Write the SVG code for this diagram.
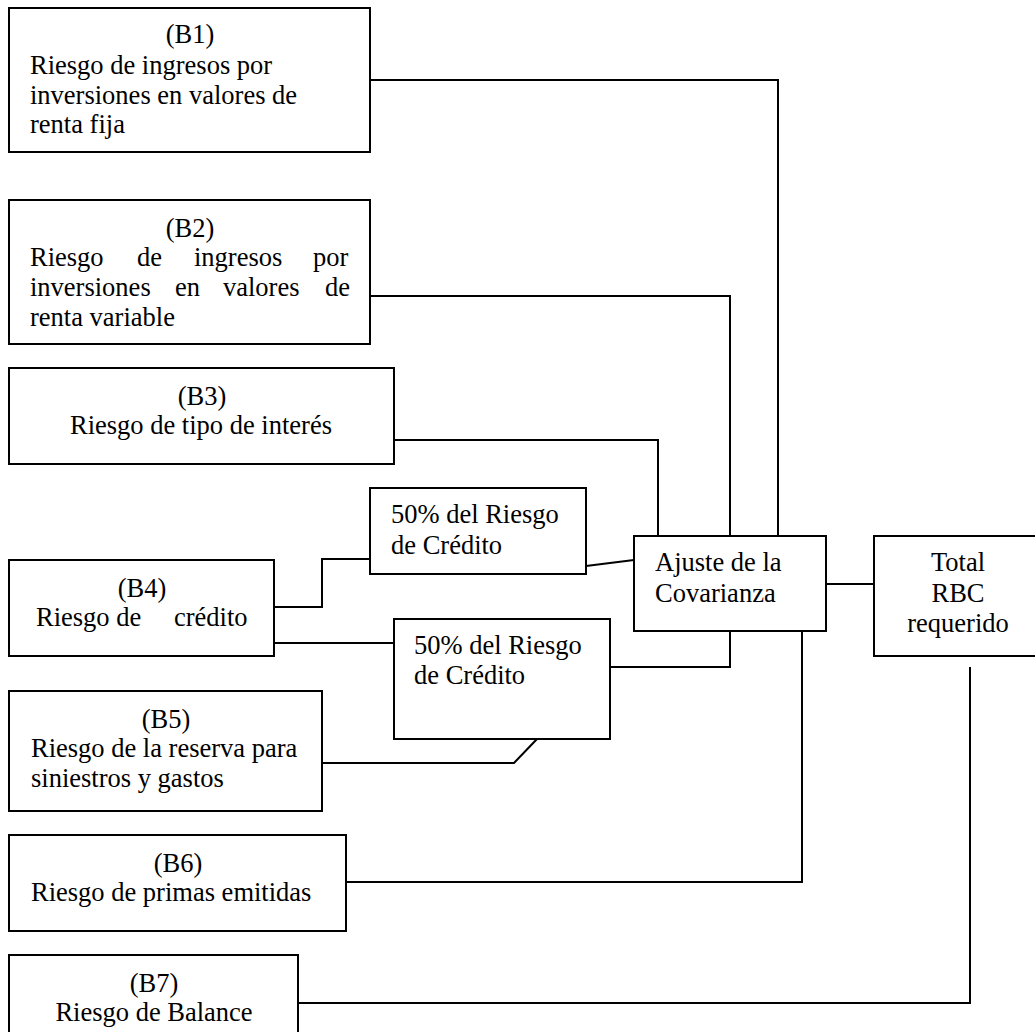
<svg xmlns="http://www.w3.org/2000/svg" width="1035" height="1032" viewBox="0 0 1035 1032">
<style>
  .box { fill: #ffffff; stroke: #000000; stroke-width: 2; }
  .wire { fill: none; stroke: #000000; stroke-width: 2; }
  text { font-family: "Liberation Serif", "Times New Roman", serif; font-size: 26.5px; fill: #000000; }
  .c { text-anchor: middle; }
</style>
<rect width="1035" height="1032" fill="#ffffff"/>
<g id="connectors">
  <polyline class="wire" points="370,80 778,80 778,536"/>
  <polyline class="wire" points="370,296 730,296 730,536"/>
  <polyline class="wire" points="394,440 658,440 658,536"/>
  <polyline class="wire" points="274,607 322,607 322,559 370,559"/>
  <line class="wire" x1="586" y1="566" x2="634" y2="560"/>
  <line class="wire" x1="274" y1="643" x2="394" y2="643"/>
  <polyline class="wire" points="610,667 730,667 730,631"/>
  <polyline class="wire" points="322,763 514,763 537,739"/>
  <polyline class="wire" points="346,882 802,882 802,631"/>
  <line class="wire" x1="826" y1="584" x2="874" y2="584"/>
  <polyline class="wire" points="298,1003 970,1003 970,667"/>
</g>
<g id="B1">
  <rect class="box" x="9" y="8" width="361" height="144"/>
  <text class="c" x="190" y="43">(B1)</text>
  <text x="30" y="74">Riesgo de ingresos por</text>
  <text x="30" y="104">inversiones en valores de</text>
  <text x="30" y="133">renta fija</text>
</g>
<g id="B2">
  <rect class="box" x="9" y="200" width="361" height="144"/>
  <text class="c" x="190" y="237">(B2)</text>
  <text y="266"><tspan x="30">Riesgo</tspan><tspan x="137">de</tspan><tspan x="194">ingresos</tspan><tspan x="313">por</tspan></text>
  <text y="296"><tspan x="30">inversiones</tspan><tspan x="175">en</tspan><tspan x="223">valores</tspan><tspan x="325">de</tspan></text>
  <text x="30" y="326">renta variable</text>
</g>
<g id="B3">
  <rect class="box" x="9" y="368" width="385" height="96"/>
  <text class="c" x="202" y="405">(B3)</text>
  <text class="c" x="201" y="434">Riesgo de tipo de interés</text>
</g>
<g id="B4">
  <rect class="box" x="9" y="560" width="265" height="96"/>
  <text class="c" x="142" y="597">(B4)</text>
  <text y="626"><tspan x="36">Riesgo de</tspan><tspan x="174">crédito</tspan></text>
</g>
<g id="C1">
  <rect class="box" x="370" y="488" width="216" height="86"/>
  <text x="391" y="523">50% del Riesgo</text>
  <text x="391" y="554">de Crédito</text>
</g>
<g id="C2">
  <rect class="box" x="394" y="619" width="216" height="120"/>
  <text x="414" y="654">50% del Riesgo</text>
  <text x="414" y="684">de Crédito</text>
</g>
<g id="B5">
  <rect class="box" x="9" y="691" width="313" height="120"/>
  <text class="c" x="166" y="728">(B5)</text>
  <text x="31" y="757">Riesgo de la reserva para</text>
  <text x="31" y="787">siniestros y gastos</text>
</g>
<g id="B6">
  <rect class="box" x="9" y="835" width="337" height="96"/>
  <text class="c" x="178" y="872">(B6)</text>
  <text x="31" y="901">Riesgo de primas emitidas</text>
</g>
<g id="B7">
  <rect class="box" x="9" y="955" width="289" height="90"/>
  <text class="c" x="154" y="992">(B7)</text>
  <text class="c" x="154" y="1021">Riesgo de Balance</text>
</g>
<g id="ajuste">
  <rect class="box" x="634" y="536" width="192" height="95"/>
  <text x="655" y="571">Ajuste de la</text>
  <text x="655" y="602">Covarianza</text>
</g>
<g id="total">
  <rect class="box" x="874" y="536" width="180" height="120"/>
  <text class="c" x="958" y="571">Total</text>
  <text class="c" x="958" y="602">RBC</text>
  <text class="c" x="958" y="632">requerido</text>
</g>
</svg>
